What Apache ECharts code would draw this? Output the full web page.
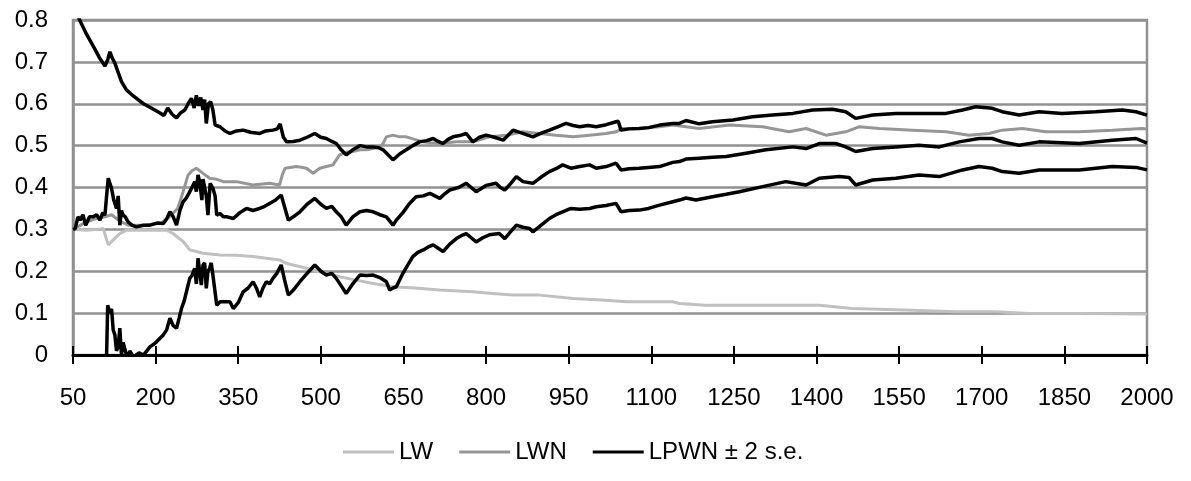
<!DOCTYPE html>
<html>
<head>
<meta charset="utf-8">
<script src="https://cdn.jsdelivr.net/npm/echarts@6/dist/echarts.min.js"></script>
<style>
  html, body { margin: 0; padding: 0; background: #fff; }
  #chart { width: 1191px; height: 481px; }
</style>
</head>
<body>
<div id="chart"></div>
<script>
// x axis ticks (sample size), y axis ticks
const xTicks = [50, 200, 350, 500, 650, 800, 950, 1100, 1250, 1400, 1550, 1700, 1850, 2000]
const yTicks = [0, 0.1, 0.2, 0.3, 0.4, 0.5, 0.6, 0.7, 0.8]

// LW (light grey)
const lw = [[50,0.30],[75,0.298],[95,0.30],[105,0.302],[110,0.28],[114,0.263],[123,0.275],[135,0.29],[147,0.298],[165,0.298],[190,0.298],[220,0.298],[232,0.29],[241,0.28],[250,0.271],[262,0.251],[286,0.243],[317,0.239],[347,0.238],[377,0.235],[425,0.227],[437,0.219],[474,0.207],[510,0.195],[534,0.187],[560,0.18],[590,0.172],[631,0.163],[670,0.16],[716,0.155],[776,0.151],[812,0.147],[849,0.143],[897,0.143],[958,0.135],[1018,0.131],[1054,0.127],[1139,0.127],[1151,0.123],[1199,0.119],[1272,0.119],[1405,0.119],[1465,0.111],[1574,0.107],[1653,0.103],[1725,0.103],[1786,0.099],[1877,0.099],[2000,0.098]]

// LWN (mid grey)
const lwn = [[50,0.30],[70,0.315],[90,0.325],[108,0.33],[120,0.335],[135,0.32],[150,0.31],[180,0.31],[210,0.315],[225,0.33],[240,0.35],[250,0.39],[259,0.43],[266,0.44],[274,0.446],[285,0.435],[298,0.422],[310,0.42],[323,0.414],[347,0.414],[377,0.406],[407,0.41],[425,0.406],[430,0.43],[435,0.446],[456,0.45],[474,0.446],[486,0.434],[498,0.446],[510,0.45],[522,0.454],[534,0.478],[546,0.484],[558,0.486],[571,0.49],[583,0.49],[595,0.493],[607,0.497],[613,0.505],[619,0.521],[631,0.525],[643,0.521],[655,0.521],[670,0.515],[686,0.509],[700,0.507],[716,0.505],[746,0.509],[776,0.509],[806,0.521],[837,0.525],[867,0.533],[897,0.529],[927,0.525],[958,0.521],[988,0.525],[1018,0.529],[1036,0.533],[1048,0.541],[1078,0.541],[1115,0.545],[1139,0.549],[1163,0.545],[1187,0.541],[1242,0.549],[1302,0.545],[1350,0.533],[1381,0.541],[1417,0.525],[1453,0.533],[1477,0.545],[1514,0.541],[1574,0.537],[1635,0.533],[1677,0.525],[1713,0.529],[1737,0.537],[1774,0.541],[1816,0.533],[1877,0.533],[1937,0.537],[1991,0.541],[2000,0.54]]

// LPWN centre
const lpwn = [[50,0.30],[54,0.302],[59,0.33],[63,0.322],[68,0.335],[73,0.31],[80,0.33],[87,0.33],[93,0.335],[99,0.322],[104,0.34],[108,0.334],[111,0.38],[114,0.422],[117,0.41],[120,0.398],[124,0.37],[129,0.35],[132,0.38],[135,0.31],[138,0.345],[141,0.334],[145,0.33],[150,0.318],[157,0.31],[165,0.306],[178,0.31],[190,0.31],[202,0.315],[214,0.314],[220,0.325],[226,0.342],[232,0.33],[238,0.31],[244,0.345],[250,0.366],[256,0.375],[262,0.39],[266,0.40],[271,0.414],[274,0.39],[277,0.43],[280,0.414],[284,0.37],[286,0.42],[289,0.422],[292,0.38],[295,0.334],[299,0.41],[304,0.398],[308,0.38],[311,0.334],[317,0.338],[323,0.33],[330,0.33],[341,0.326],[353,0.34],[365,0.35],[377,0.345],[389,0.35],[398,0.355],[407,0.362],[418,0.37],[428,0.382],[435,0.35],[441,0.322],[450,0.33],[462,0.342],[475,0.36],[489,0.374],[500,0.36],[510,0.35],[520,0.355],[528,0.342],[537,0.33],[546,0.31],[558,0.33],[571,0.342],[583,0.345],[595,0.342],[607,0.335],[619,0.33],[631,0.31],[637,0.322],[649,0.34],[661,0.362],[673,0.378],[686,0.38],[698,0.386],[707,0.38],[716,0.374],[725,0.385],[734,0.394],[750,0.40],[764,0.41],[773,0.40],[782,0.39],[800,0.405],[818,0.41],[826,0.40],[834,0.394],[845,0.41],[855,0.426],[867,0.414],[885,0.41],[900,0.425],[915,0.438],[927,0.445],[939,0.454],[954,0.446],[970,0.45],[988,0.454],[1000,0.446],[1018,0.45],[1036,0.458],[1045,0.442],[1060,0.445],[1078,0.446],[1095,0.448],[1115,0.45],[1139,0.46],[1151,0.462],[1163,0.468],[1187,0.47],[1211,0.472],[1236,0.474],[1272,0.482],[1308,0.49],[1357,0.497],[1381,0.493],[1405,0.505],[1435,0.505],[1453,0.497],[1471,0.486],[1502,0.493],[1544,0.497],[1586,0.501],[1623,0.497],[1659,0.509],[1695,0.517],[1719,0.517],[1737,0.509],[1768,0.501],[1804,0.509],[1877,0.505],[1937,0.513],[1980,0.517],[2000,0.506]]

// LPWN + 2 s.e.
const lpwnUpper = [[50,0.845],[62,0.80],[75,0.765],[87,0.737],[98,0.71],[108,0.69],[113,0.705],[117,0.724],[121,0.71],[126,0.697],[132,0.675],[138,0.653],[147,0.633],[160,0.618],[178,0.60],[192,0.59],[208,0.578],[215,0.572],[222,0.59],[230,0.575],[238,0.566],[245,0.578],[253,0.585],[259,0.60],[265,0.613],[270,0.59],[274,0.62],[278,0.595],[282,0.615],[286,0.585],[289,0.61],[292,0.553],[296,0.60],[300,0.605],[304,0.585],[308,0.549],[317,0.545],[326,0.535],[335,0.529],[347,0.535],[359,0.537],[372,0.532],[389,0.529],[400,0.535],[413,0.537],[421,0.54],[426,0.552],[432,0.52],[438,0.509],[450,0.51],[462,0.513],[475,0.52],[489,0.529],[500,0.52],[510,0.517],[520,0.51],[528,0.505],[537,0.49],[546,0.478],[558,0.49],[571,0.50],[583,0.497],[595,0.497],[605,0.495],[613,0.49],[622,0.478],[631,0.466],[643,0.48],[655,0.49],[667,0.50],[679,0.509],[692,0.512],[704,0.517],[713,0.51],[722,0.505],[731,0.515],[740,0.521],[752,0.524],[764,0.529],[776,0.509],[788,0.52],[800,0.525],[815,0.52],[831,0.513],[840,0.525],[849,0.537],[865,0.53],[885,0.521],[900,0.53],[915,0.537],[930,0.545],[945,0.553],[958,0.548],[970,0.545],[985,0.548],[1000,0.545],[1018,0.55],[1036,0.557],[1040,0.558],[1045,0.537],[1060,0.54],[1078,0.541],[1095,0.543],[1115,0.549],[1139,0.553],[1151,0.553],[1163,0.56],[1187,0.552],[1211,0.557],[1248,0.561],[1284,0.569],[1320,0.573],[1357,0.577],[1393,0.585],[1429,0.587],[1453,0.581],[1471,0.565],[1502,0.573],[1544,0.577],[1586,0.577],[1635,0.577],[1665,0.585],[1689,0.593],[1719,0.589],[1737,0.581],[1768,0.573],[1804,0.581],[1846,0.577],[1907,0.581],[1955,0.585],[1980,0.581],[2000,0.573]]

// LPWN - 2 s.e.
const lpwnLower = [[50,-0.24],[80,-0.1],[108,-0.02],[111,0.0],[113,0.119],[117,0.10],[120,0.11],[123,0.06],[126,0.048],[129,0.01],[132,0.02],[135,0.064],[138,0.0],[141,0.03],[144,0.032],[147,0.0],[150,-0.01],[153,0.01],[156,0.008],[160,-0.005],[165,0.0],[170,0.005],[178,0.0],[184,0.01],[190,0.02],[196,0.025],[202,0.032],[208,0.04],[214,0.048],[220,0.06],[226,0.088],[232,0.07],[238,0.064],[243,0.09],[247,0.111],[252,0.13],[256,0.151],[262,0.183],[266,0.19],[271,0.207],[274,0.17],[277,0.231],[280,0.2],[283,0.167],[286,0.215],[289,0.22],[292,0.159],[295,0.2],[298,0.207],[301,0.22],[304,0.191],[308,0.15],[311,0.119],[317,0.127],[323,0.127],[335,0.127],[341,0.111],[350,0.125],[359,0.151],[368,0.16],[377,0.175],[383,0.16],[389,0.139],[395,0.16],[401,0.175],[407,0.17],[413,0.183],[420,0.195],[428,0.215],[434,0.18],[441,0.143],[450,0.155],[462,0.175],[475,0.195],[489,0.215],[500,0.2],[510,0.191],[520,0.195],[528,0.183],[537,0.165],[546,0.147],[558,0.17],[571,0.191],[583,0.19],[595,0.191],[607,0.185],[619,0.175],[625,0.155],[631,0.16],[637,0.163],[649,0.195],[658,0.215],[667,0.235],[676,0.245],[686,0.251],[695,0.258],[704,0.263],[713,0.255],[722,0.247],[734,0.265],[746,0.278],[755,0.285],[764,0.29],[773,0.28],[782,0.27],[794,0.28],[806,0.287],[824,0.29],[834,0.278],[845,0.295],[855,0.31],[867,0.305],[879,0.302],[885,0.294],[900,0.31],[915,0.326],[927,0.335],[939,0.342],[954,0.35],[970,0.348],[988,0.35],[1000,0.354],[1018,0.357],[1036,0.362],[1045,0.342],[1060,0.345],[1078,0.346],[1095,0.35],[1115,0.358],[1139,0.366],[1151,0.37],[1163,0.375],[1181,0.37],[1211,0.378],[1236,0.384],[1260,0.39],[1302,0.402],[1344,0.414],[1362,0.41],[1381,0.406],[1405,0.422],[1441,0.426],[1459,0.424],[1471,0.406],[1502,0.418],[1544,0.422],[1586,0.43],[1623,0.426],[1665,0.442],[1695,0.45],[1719,0.446],[1737,0.438],[1768,0.434],[1804,0.442],[1877,0.442],[1937,0.45],[1980,0.448],[2000,0.442]]

const FONT = '"Liberation Sans", Arial, sans-serif'
const xStep = xTicks[1] - xTicks[0]
const yStep = yTicks[1] - yTicks[0]

const lineSeries = (name, data, color, width) => ({
  name,
  type: 'line',
  data,
  symbol: 'none',
  animation: false,
  lineStyle: { color, width },
  itemStyle: { color },
})

const option = {
  animation: false,
  grid: {
    left: 73,
    right: 44,
    top: 20,
    bottom: 126,
    show: true,
    borderColor: '#919191',
    borderWidth: 2.5,
  },
  legend: {
    left: 338,
    top: 435,
    icon: 'rect',
    itemWidth: 51,
    itemHeight: 3,
    itemGap: 26,
    textStyle: { fontFamily: FONT, fontSize: 24, color: '#000' },
    data: ['LW', 'LWN', 'LPWN ± 2 s.e.'],
  },
  xAxis: [
    {
      type: 'value',
      min: xTicks[0],
      max: xTicks[xTicks.length - 1],
      interval: xStep,
      position: 'bottom',
      axisLine: { lineStyle: { color: '#000', width: 3 } },
      axisTick: { length: 9, lineStyle: { color: '#000', width: 2 } },
      axisLabel: {
        margin: 31,
        fontFamily: FONT,
        fontSize: 24,
        color: '#000',
        formatter: (v) => String(v),
      },
      splitLine: { show: false },
    },
    {
      // inside half of the crossing tick marks
      type: 'value',
      min: xTicks[0],
      max: xTicks[xTicks.length - 1],
      interval: xStep,
      position: 'bottom',
      axisLine: { show: false },
      axisTick: { inside: true, length: 9, lineStyle: { color: '#000', width: 2 } },
      axisLabel: { show: false },
      splitLine: { show: false },
    },
  ],
  yAxis: {
    type: 'value',
    min: yTicks[0],
    max: yTicks[yTicks.length - 1],
    interval: yStep,
    axisLine: { show: true, lineStyle: { color: '#919191', width: 2.5 } },
    axisTick: { show: false },
    axisLabel: { margin: 25, fontFamily: FONT, fontSize: 24, color: '#000' },
    splitLine: { lineStyle: { color: '#919191', width: 2.5 } },
  },
  series: [
    lineSeries('LW', lw, '#c0c0c0', 3),
    lineSeries('LWN', lwn, '#969696', 3),
    lineSeries('LPWN ± 2 s.e.', lpwn, '#000', 3.5),
    lineSeries('LPWN ± 2 s.e.', lpwnUpper, '#000', 3.5),
    lineSeries('LPWN ± 2 s.e.', lpwnLower, '#000', 3.5),
  ],
}

const myEcharts = echarts.init(document.getElementById('chart'))
myEcharts.setOption(option)
</script>
</body>
</html>
